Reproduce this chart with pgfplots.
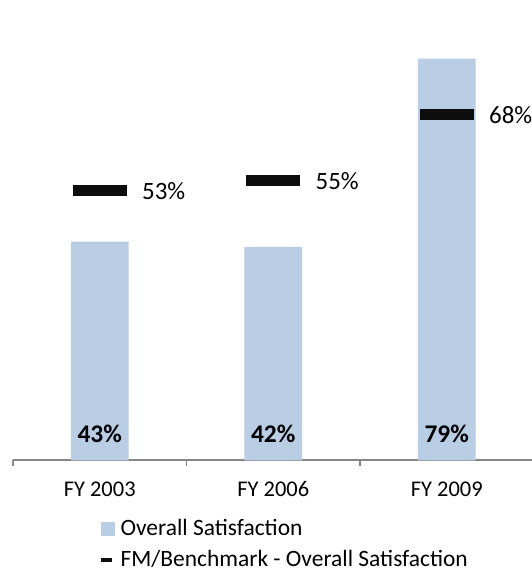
\documentclass[border=0pt]{standalone}
\usepackage{pgfplots}
\pgfplotsset{compat=1.18}
\usepackage{fontspec}
\setmainfont{Carlito}
\definecolor{barblue}{HTML}{B9CDE5}
\definecolor{mk}{HTML}{0D0D0D}
\definecolor{axgray}{HTML}{868686}
\begin{document}
\fontsize{22}{26.4}\selectfont
\begin{tikzpicture}
\begin{axis}[
  scale only axis, width=520pt, height=461.5pt,
  xmin=-0.5, xmax=2.489, ymin=0, ymax=90.54,
  clip=false,
  /pgf/number format/assume math mode=true,
  axis x line*=bottom, axis y line=none,
  x axis line style={-, axgray, line width=1.8pt},
  xtick={0,1,2}, xticklabels={FY 2003, FY 2006, FY 2009},
  major tick length=0pt,
  minor xtick={-0.5,0.5,1.5},
  minor tick length=6pt, tick align=outside,
  minor tick style={axgray, line width=1.5pt},
  xticklabel style={anchor=base, yshift=-36.3pt, font=\fontsize{22.5}{27}\selectfont},
  legend style={draw=none, fill=none, at={(0.167,-0.128)}, anchor=north west,
    inner sep=0pt, row sep=11.5pt, font=\fontsize{23.5}{28}\selectfont,
    nodes={text height=16pt, text depth=3.5pt, inner sep=0pt}},
  legend cell align=left,
]
\addplot[ybar, bar width=58pt, fill=barblue, draw=none,
  legend image code/.code={\fill[barblue] (0pt,-7pt) rectangle (14pt,7pt);
    \path (19pt,0pt);}]
  coordinates {(0,43) (1,42) (2,79)};
\addlegendentry{Overall Satisfaction}
\addplot[only marks, mark=-, mark size=27pt, mark options={line width=11pt, draw=mk},
  nodes near coords={\pgfmathprintnumber[assume math mode=true]{\pgfplotspointmeta}\%},
  every node near coord/.append style={anchor=west, inner sep=0pt, xshift=37pt, text=black,
    font=\fontsize{25}{30}\selectfont},
  legend image code/.code={\draw[mk, line width=3.3pt] (0pt,0pt) -- (10.7pt,0pt);
    \path (19pt,0pt);}]
  coordinates {(0,53) (1,55) (2,68)};
\addlegendentry{FM/Benchmark - Overall Satisfaction}
\addplot[draw=none, mark=none, forget plot, nodes near coords, point meta=explicit symbolic,
  every node near coord/.append style={anchor=base, yshift=18.3pt, inner sep=0pt, text=black,
    font=\fontsize{25.5}{30}\selectfont\bfseries}]
  coordinates {(0,0) [43\%] (1,0) [42\%] (2,0) [79\%]};
\end{axis}
\pgfresetboundingbox
\path ([xshift=-13pt,yshift=-112pt]current axis.south west) rectangle (current axis.north east);
\end{tikzpicture}
\end{document}
